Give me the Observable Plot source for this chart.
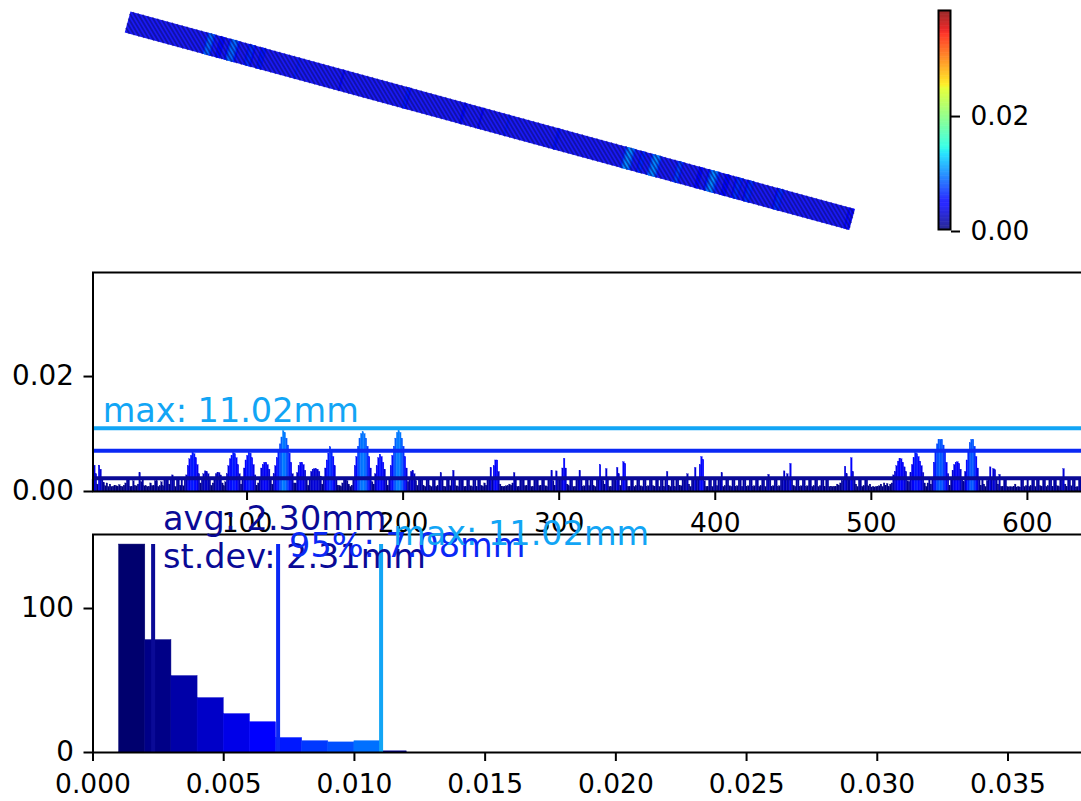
<!DOCTYPE html>
<html><head><meta charset="utf-8">
<style>html,body{margin:0;padding:0;background:#fff;overflow:hidden;width:1081px;height:801px}
#c{position:relative;width:1085px;height:801px;overflow:hidden}
#c svg{position:absolute;left:0;top:0;max-width:none;overflow:visible}</style>
<script src="https://cdn.jsdelivr.net/npm/d3@7"></script>
<script src="https://cdn.jsdelivr.net/npm/@observablehq/plot@0.6"></script>
</head><body><div id="c"></div>
<script>
// Profile along the beam, tenths of a millimetre per element
const seg01=[20,45,30,12,45,38,21,15,9,14,8,12,8,8,10,9,8,11,8,8,10,14,20,20,8,8,18,9,9,12,32,16,20,9,9,8,8,14,9,9,18,18,8,9,16,9,21,21,23,12];
const seg02=[23,28,20,8,21,23,10,21,9,22,28,44,56,62,67,65,58,46,30,14,20,30,35,34,30,22,10,14,22,30,32,32,28,14,9,16,30,44,56,62,67,65,58,46,30,12,22,40,54,62];
const seg03=[67,66,58,46,28,10,14,24,40,46,50,50,46,38,20,12,30,44,58,68,82,94,105,102,92,80,66,50,30,14,14,32,44,50,50,46,36,20,10,22,34,38,39,39,38,34,26,12,22,40];
const seg04=[54,66,77,72,60,44,24,10,10,8,14,20,20,18,12,8,10,24,44,60,78,92,100,103,100,92,78,60,40,16,12,30,44,58,64,60,50,38,22,10,24,44,62,78,92,102,105,102,92,78];
const seg05=[60,40,16,24,34,36,30,18,10,20,21,20,9,8,21,21,9,8,20,20,8,9,22,32,21,8,8,21,21,9,20,36,20,9,8,21,20,21,8,8,20,21,9,8,20,21,8,22,21,10];
const seg06=[8,14,10,20,23,41,20,44,54,54,34,12,8,8,8,9,9,12,10,14,32,20,8,8,20,20,21,9,9,21,20,8,8,20,21,22,9,10,21,20,9,8,21,23,36,18,10,35,21,20];
const seg07=[20,40,57,40,12,9,22,21,8,8,20,21,36,22,8,9,23,20,9,21,21,9,8,22,21,46,21,18,12,39,21,8,8,22,21,18,41,30,10,21,51,48,20,8,8,20,21,8,9,20];
const seg08=[21,9,8,22,21,8,9,20,21,9,8,21,20,8,20,21,8,22,34,10,8,20,21,8,22,20,9,9,20,21,21,30,12,8,21,20,41,20,21,46,60,55,18,8,8,20,21,8,22,21];
const seg09=[9,21,20,32,8,9,20,21,9,8,21,21,8,9,20,20,8,22,21,8,9,20,21,8,9,22,21,8,9,21,20,8,21,29,20,8,9,21,20,8,9,20,22,35,21,30,20,48,21,10];
const seg10=[8,20,21,8,9,22,21,8,9,20,21,8,9,20,21,8,9,21,20,8,20,21,8,8,8,8,8,12,10,14,18,22,43,30,20,20,58,34,21,12,8,21,20,8,9,21,20,9,12,7];
const seg11=[8,7,8,8,9,12,8,14,10,13,8,12,14,28,34,44,52,57,56,50,42,34,18,16,32,46,58,67,65,60,52,44,32,14,8,14,24,12,24,50,68,82,90,90,90,80,68,50,30,10];
const seg12=[20,36,46,50,51,48,38,22,16,34,54,72,84,90,90,78,60,40,22,10,21,12,8,18,22,42,22,39,37,21,12,29,8,8,21,20,8,7,8,7,8,12,7,8,7,20,21,8,9,21];
const seg13=[8,9,21,20,8,20,21,9,8,20,21,8,9,20,21,8,22,21,9,8,21,20,39,12,8,20,21,9,21,20,7,8,21,20,8];
const profile=[seg01,seg02,seg03,seg04,seg05,seg06,seg07,seg08,seg09,seg10,seg11,seg12,seg13].flat().map(v=>v/10000);

// Histogram
const binLeft=[0.001,0.002,0.003,0.004,0.005,0.006,0.007,0.008,0.009,0.010,0.011];
const binCount=[144.4,78,53,37.7,26.6,21,10,7.8,7,7.8,0.8];
const binColor=["#00006e","#000087","#0000a8","#0000c8","#0000e8","#0000ff","#0018ff","#0038ff","#0050ff","#0070ff","#000090"];

// Statistics
const avgVal=0.0023, stdVal=0.00231, p95Val=0.00708, maxVal=0.01102;
const avgColor="#0a0a96", p95Color="#0a28f5", maxColor="#12a5f5";
const labelAvg="avg: 2.30mm", labelStd="st.dev: 2.31mm", labelP95="95%: 7.08mm", labelMax="max: 11.02mm";

// Colour map
const vmax=0.0381;
const jetStops=[0,0.11,0.125,0.34,0.35,0.375,0.64,0.66,0.89,0.91,1];
const jetColors=["#000080","#0000ff","#0000ff","#00dbff","#00e5f7","#16ffe1","#e1ff16","#ffea00","#ff1300","#e80000","#800000"];
const colorScale={type:"linear",domain:jetStops.map(s=>s*vmax),range:jetColors,clamp:true};
const barLevels=d3.range(0,vmax,0.0001);

// Beam in plan
const beamStart=[0,0], beamEnd=[632.8,172.5], beamHalfWidth=9.5;
const beamBase="#1a1af5", beamHatch="#0c0c78", hatchCount=128, hatchSkew=1.05;

const font="DejaVu Sans", tickFont=26.5, sideFont=27.8, noteFont=33.5;
const W=1085,H=801,C=document.getElementById("c");
const baseStyle={background:"transparent",fontFamily:font,overflow:"visible"};
const add=p=>C.appendChild(p);

// --- beam strip
{
  const dx=beamEnd[0]-beamStart[0],dy=beamEnd[1]-beamStart[1],L=Math.hypot(dx,dy);
  const ux=dx/L,uy=dy/L,nx=-uy,ny=ux;
  const P=(s,t)=>[beamStart[0]+ux*s+nx*t,beamStart[1]+uy*s+ny*t];
  const n=profile.length,du=L/n;
  const hw=beamHalfWidth;
  const ribs=profile.map((v,i)=>({v,s:L-(i+0.5)*du})).filter(d=>d.v>=0.0045).sort((a,b)=>a.v-b.v);
  const hatch=d3.range(hatchCount+26).map(i=>{
    const d=2*hw*hatchSkew, s0=-d+i*(L+d)/(hatchCount+25);
    let a=0,b=1;
    if(s0<0)a=-s0/d;
    if(s0+d>L)b=(L-s0)/d;
    return {p:P(s0+a*d,-hw+a*2*hw),q:P(s0+b*d,-hw+b*2*hw)};
  });
  add(Plot.plot({width:W,height:H,margin:0,style:baseStyle,
    x:{domain:[-111,836.6],range:[0,W],axis:null},
    y:{domain:[-18.78,680.8],range:[0,H],axis:null},
    color:colorScale,
    marks:[
      Plot.link([0],{x1:()=>beamStart[0],y1:()=>beamStart[1],x2:()=>beamEnd[0],y2:()=>beamEnd[1],stroke:beamBase,strokeWidth:21.8,strokeLinecap:"butt"}),
      Plot.link(ribs,{x1:d=>P(d.s,-hw)[0],y1:d=>P(d.s,-hw)[1],x2:d=>P(d.s,hw)[0],y2:d=>P(d.s,hw)[1],stroke:d=>d.v,strokeOpacity:0.85,strokeWidth:2.2,strokeLinecap:"butt"}),
      Plot.link(hatch,{x1:d=>d.p[0],y1:d=>d.p[1],x2:d=>d.q[0],y2:d=>d.q[1],stroke:beamHatch,strokeOpacity:0.6,strokeWidth:1.8,strokeLinecap:"butt"})
    ]}));
}

// --- colour bar
add(Plot.plot({width:W,height:H,marginLeft:938,marginRight:W-950,marginTop:10,marginBottom:H-229,style:baseStyle,
  x:{domain:[0,1],axis:null},y:{domain:[0,vmax]},color:colorScale,
  marks:[
    Plot.rect(barLevels,{x1:()=>0,x2:()=>1,y1:d=>d,y2:d=>d+0.00012,fill:d=>d}),
    Plot.frame({stroke:"black",strokeWidth:2}),
    Plot.axisY({anchor:"right",ticks:[0,0.02],tickFormat:d3.format(".2f"),tickSize:9,tickPadding:11,fontSize:26.4,dy:2,strokeWidth:2,label:null})
  ]}));

// --- profile
add(Plot.plot({width:W,height:H,marginLeft:92.5,marginRight:W-1082,marginTop:272,marginBottom:H-491,style:baseStyle,
  x:{domain:[1.3,635.3]},y:{domain:[0,vmax]},color:colorScale,
  marks:[
    Plot.rect(profile,{x1:(d,i)=>i+1,x2:(d,i)=>i+2,y1:()=>0,y2:d=>d,fill:d=>d-0.001,stroke:d=>d-0.001,strokeWidth:0.3}),
    Plot.ruleY([avgVal],{stroke:avgColor,strokeWidth:4}),
    Plot.ruleY([p95Val],{stroke:p95Color,strokeWidth:4}),
    Plot.ruleY([maxVal],{stroke:maxColor,strokeWidth:4}),
    Plot.text([labelMax],{x:()=>7.5,y:()=>0.0139,text:d=>d,fill:maxColor,fontSize:noteFont,textAnchor:"start",lineAnchor:"middle"}),
    Plot.frame({stroke:"black",strokeWidth:2}),
    Plot.axisX({ticks:[100,200,300,400,500,600],tickSize:9,tickPadding:13,fontSize:tickFont,strokeWidth:2,label:null,tickFormat:d3.format("d")}),
    Plot.axisY({ticks:[0,0.02],tickFormat:d3.format(".2f"),tickSize:9,tickPadding:10,fontSize:sideFont,strokeWidth:2,label:null})
  ]}));

// --- histogram
add(Plot.plot({width:W,height:H,marginLeft:92.5,marginRight:W-1082,marginTop:534,marginBottom:H-752,style:baseStyle,
  x:{domain:[0,0.03785]},y:{domain:[0,151.4]},
  marks:[
    Plot.rect(binCount,{x1:(d,i)=>binLeft[i],x2:(d,i)=>binLeft[i]+0.001,y1:()=>0,y2:d=>d,fill:(d,i)=>binColor[i],stroke:(d,i)=>binColor[i],strokeWidth:0.5}),
    Plot.ruleX([avgVal],{y1:0,y2:144.4,stroke:avgColor,strokeWidth:4}),
    Plot.ruleX([p95Val],{y1:0,y2:144.4,stroke:p95Color,strokeWidth:4}),
    Plot.ruleX([maxVal],{y1:0,y2:144.4,stroke:maxColor,strokeWidth:4}),
    Plot.frame({stroke:"black",strokeWidth:2}),
    Plot.axisX({ticks:[0,0.005,0.01,0.015,0.02,0.025,0.03,0.035],tickFormat:d3.format(".3f"),tickSize:9,tickPadding:13,fontSize:tickFont,strokeWidth:2,label:null}),
    Plot.axisY({ticks:[0,100],tickFormat:d3.format("d"),tickSize:9,tickPadding:10,fontSize:sideFont,strokeWidth:2,label:null}),
    Plot.text([labelAvg],{x:()=>0.00268,y:()=>161.8,text:d=>d,fill:avgColor,fontSize:noteFont,textAnchor:"start",lineAnchor:"middle"}),
    Plot.text([labelStd],{x:()=>0.00268,y:()=>135.4,text:d=>d,fill:avgColor,fontSize:noteFont,textAnchor:"start",lineAnchor:"middle"}),
    Plot.text([labelP95],{x:()=>0.0075,y:()=>143,text:d=>d,fill:p95Color,fontSize:noteFont,textAnchor:"start",lineAnchor:"middle"}),
    Plot.text([labelMax],{x:()=>0.01148,y:()=>151.4,text:d=>d,fill:maxColor,fontSize:noteFont,textAnchor:"start",lineAnchor:"middle"})
  ]}));
</script></body></html>
